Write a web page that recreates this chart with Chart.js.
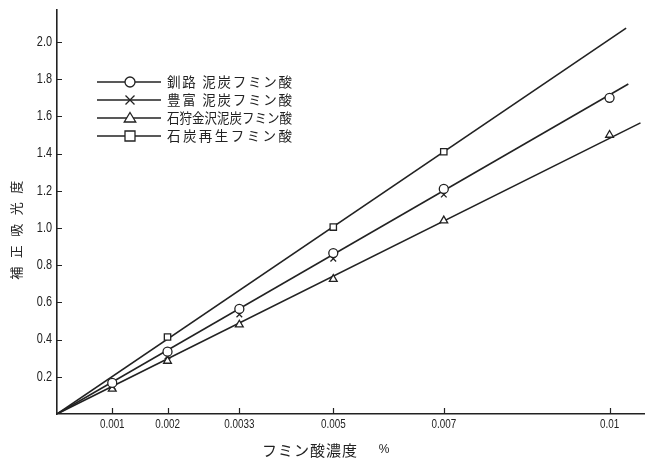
<!DOCTYPE html>
<html>
<head>
<meta charset="utf-8">
<script src="https://cdn.jsdelivr.net/npm/chart.js@4.4.1/dist/chart.umd.min.js"></script>
<style>
  html, body { margin: 0; padding: 0; background: #ffffff; }
  canvas { display: block; }
</style>
</head>
<body>
<canvas id="c" width="650" height="460"></canvas>
<script>
// フミン酸濃度 (%)
const concentrations = [0.001, 0.002, 0.0033, 0.005, 0.007, 0.01];

// 補正吸光度 for each humic acid
const kushiro  = [0.167, 0.335, 0.565, 0.865, 1.21, 1.70];   // 釧路 泥炭フミン酸 (○)
const toyotomi = [0.15, 0.31, 0.535, 0.835, 1.18, null];     // 豊富 泥炭フミン酸 (×)
const ishikari = [0.135, 0.285, 0.48, 0.725, 1.04, 1.50];    // 石狩金沢泥炭フミン酸 (△)
const coal     = [null, 0.414, null, 1.005, 1.41, null];     // 石炭再生フミン酸 (□)

// Straight calibration lines from the origin: [concentration, absorbance] at the far end
const lineKushiroEnd  = [0.01034, 1.774];
const lineIshikariEnd = [0.01056, 1.565];
const lineCoalEnd     = [0.01030, 2.075];

const seriesNames = ['釧路 泥炭フミン酸', '豊富 泥炭フミン酸', '石狩金沢泥炭フミン酸', '石炭再生フミン酸'];
const seriesMarkers = ['circle', 'crossRot', 'triangle', 'rect'];

const xTickValues = [0.001, 0.002, 0.0033, 0.005, 0.007, 0.01];
const xTickLabels = ['0.001', '0.002', '0.0033', '0.005', '0.007', '0.01'];
const yTickValues = [0.2, 0.4, 0.6, 0.8, 1.0, 1.2, 1.4, 1.6, 1.8, 2.0];
const yTickLabels = ['0.2', '0.4', '0.6', '0.8', '1.0', '1.2', '1.4', '1.6', '1.8', '2.0'];

const xTitle = 'フミン酸濃度';
const xUnit = '%';
const yTitle = '補正吸光度';

const INK = '#222222';
const NUM_FONT = "'Liberation Sans', 'Arimo', sans-serif";
const JP_FONT = "'Noto Sans CJK JP', 'Noto Sans CJK SC', sans-serif";

function points(values) {
  return concentrations.map((x, i) => ({ x: x, y: values[i] })).filter(p => p.y !== null);
}
function line(end) {
  return [{ x: 0, y: 0 }, { x: end[0], y: end[1] }];
}

const markerData = [kushiro, toyotomi, ishikari, coal];

const datasets = [
  { data: line(lineKushiroEnd) },
  { data: line(lineIshikariEnd) },
  { data: line(lineCoalEnd) }
].map(d => Object.assign(d, {
  showLine: true,
  borderColor: INK,
  borderWidth: 1.6,
  pointRadius: 0,
  fill: false,
  order: 2
}));

markerData.forEach((vals, i) => {
  datasets.push({
    label: seriesNames[i],
    data: points(vals),
    showLine: false,
    pointStyle: seriesMarkers[i],
    pointRadius: i === 1 ? 4 : 4.5,
    pointBorderWidth: 1.3,
    pointBackgroundColor: '#ffffff',
    pointBorderColor: INK,
    order: 1
  });
});

// Draws a single line of text stretched or squeezed to an exact width
function justifiedText(ctx, text, x, y, width) {
  ctx.letterSpacing = '0px';
  const w = ctx.measureText(text).width;
  const n = Array.from(text).length;
  if (w < width && n > 1) {
    const sp = (width - w) / (n - 1);
    ctx.letterSpacing = sp + 'px';
    ctx.fillText(text, x, y);
  } else {
    ctx.fillText(text, x, y, width);
  }
  ctx.letterSpacing = '0px';
}

// Narrow numerals: ordinary sans face compressed horizontally
function narrowText(ctx, text, x, y, size, squeeze, align) {
  ctx.save();
  ctx.font = size + 'px ' + NUM_FONT;
  ctx.textAlign = align;
  ctx.textBaseline = 'middle';
  ctx.translate(x, y);
  ctx.scale(squeeze, 1);
  ctx.fillText(text, 0, 0);
  ctx.restore();
}

function drawMarker(ctx, style, x, y, r) {
  ctx.beginPath();
  if (style === 'circle') {
    ctx.arc(x, y, r, 0, Math.PI * 2);
    ctx.fill(); ctx.stroke();
  } else if (style === 'rect') {
    ctx.rect(x - r, y - r, 2 * r, 2 * r);
    ctx.fill(); ctx.stroke();
  } else if (style === 'triangle') {
    ctx.moveTo(x, y - r * 1.1);
    ctx.lineTo(x + r * 1.15, y + r * 0.8);
    ctx.lineTo(x - r * 1.15, y + r * 0.8);
    ctx.closePath();
    ctx.fill(); ctx.stroke();
  } else {
    ctx.moveTo(x - r, y - r); ctx.lineTo(x + r, y + r);
    ctx.moveTo(x + r, y - r); ctx.lineTo(x - r, y + r);
    ctx.stroke();
  }
}

const decorations = {
  id: 'decorations',
  afterDraw(chart) {
    const ctx = chart.ctx;
    const xs = chart.scales.x, ys = chart.scales.y;
    const area = chart.chartArea;
    ctx.save();
    ctx.strokeStyle = INK;
    ctx.fillStyle = INK;
    ctx.lineWidth = 1.2;

    // inner tick marks
    ctx.beginPath();
    yTickValues.forEach(v => {
      const py = Math.round(ys.getPixelForValue(v)) + 0.5;
      ctx.moveTo(area.left, py); ctx.lineTo(area.left + 5, py);
    });
    xTickValues.forEach(v => {
      const px = Math.round(xs.getPixelForValue(v)) + 0.5;
      ctx.moveTo(px, area.bottom); ctx.lineTo(px, area.bottom - 6);
    });
    ctx.stroke();

    // tick labels
    yTickValues.forEach((v, i) => {
      narrowText(ctx, yTickLabels[i], area.left - 5, ys.getPixelForValue(v), 14, 0.78, 'right');
    });
    xTickValues.forEach((v, i) => {
      narrowText(ctx, xTickLabels[i], xs.getPixelForValue(v), area.bottom + 10, 13, 0.76, 'center');
    });

    // axis titles
    ctx.textBaseline = 'middle';
    ctx.textAlign = 'center';
    ctx.font = '15px ' + JP_FONT;
    ctx.letterSpacing = '1px';
    ctx.fillText(xTitle, 310, 450);
    ctx.letterSpacing = '0px';
    ctx.font = '12px ' + NUM_FONT;
    ctx.fillText(xUnit, 384, 450);

    ctx.save();
    ctx.translate(16, 230);
    ctx.rotate(-Math.PI / 2);
    ctx.font = '13px ' + JP_FONT;
    ctx.letterSpacing = '8.5px';
    ctx.fillText(yTitle, 4, 0);
    ctx.restore();

    // legend
    const rows = [82, 100, 118, 136];
    ctx.font = '13.5px ' + JP_FONT;
    ctx.textAlign = 'left';
    rows.forEach((ry, i) => {
      ctx.lineWidth = 1.7;
      ctx.beginPath();
      ctx.moveTo(97, ry); ctx.lineTo(161, ry);
      ctx.stroke();
      ctx.fillStyle = '#ffffff';
      ctx.lineWidth = 1.3;
      drawMarker(ctx, seriesMarkers[i], 130, ry, i === 1 ? 4.5 : 5);
      ctx.fillStyle = INK;
      justifiedText(ctx, seriesNames[i], 167, ry, 125);
    });
    ctx.restore();
  }
};

new Chart(document.getElementById('c'), {
  type: 'scatter',
  data: { datasets: datasets },
  plugins: [decorations],
  options: {
    responsive: false,
    animation: false,
    devicePixelRatio: 1,
    layout: { padding: { top: 10, right: 0, left: 0, bottom: 0 } },
    plugins: { legend: { display: false }, tooltip: { enabled: false } },
    scales: {
      x: {
        type: 'linear',
        min: 0,
        max: 0.010627,
        afterBuildTicks: s => { s.ticks = xTickValues.map(v => ({ value: v })); },
        afterFit: s => { s.height = 46; },
        grid: { display: false, drawTicks: false },
        border: { display: true, color: INK, width: 1.6 },
        ticks: { display: false }
      },
      y: {
        type: 'linear',
        min: 0,
        max: 2.172,
        afterBuildTicks: s => { s.ticks = yTickValues.map(v => ({ value: v })); },
        afterFit: s => { s.width = 57; },
        grid: { display: false, drawTicks: false },
        border: { display: true, color: INK, width: 1.6 },
        ticks: { display: false }
      }
    }
  }
});
</script>
</body>
</html>
